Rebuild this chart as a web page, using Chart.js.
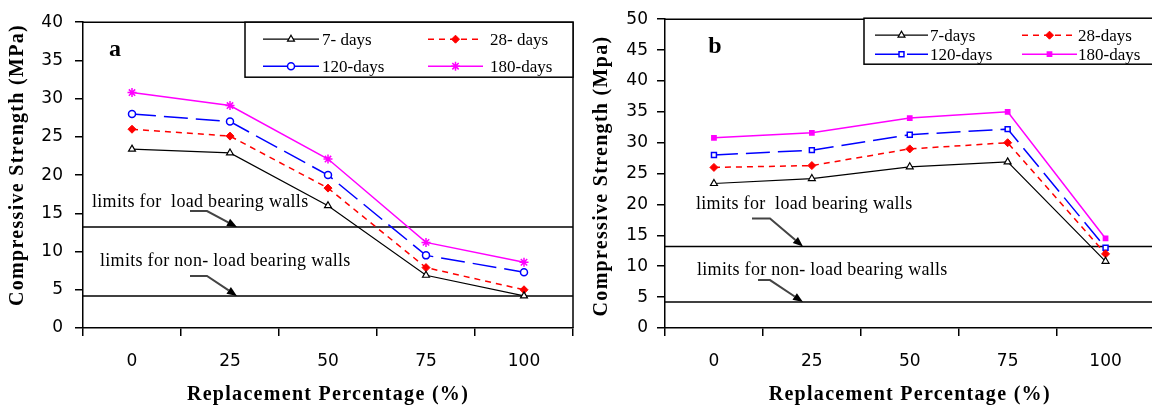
<!DOCTYPE html>
<html><head><meta charset="utf-8">
<script src="https://cdn.jsdelivr.net/npm/chart.js@4.4.0/dist/chart.umd.min.js"></script>
<style>
html,body{margin:0;padding:0;background:#fff;overflow:hidden;width:1152px;height:407px}
canvas{position:absolute;top:0}
#ca{left:0}#cb{left:580px}
</style></head>
<body>
<canvas id="ca" width="580" height="407"></canvas>
<canvas id="cb" width="580" height="407"></canvas>
<script>
// ---------- data ----------
const categories = ['0', '25', '50', '75', '100'];
const namesA = ['7- days', '28- days', '120-days', '180-days'];
const namesB = ['7-days', '28-days', '120-days', '180-days'];

const a7   = [23.4, 22.9, 16.0, 6.9, 4.2];
const a28  = [26.0, 25.1, 18.3, 7.9, 5.0];
const a120 = [28.0, 27.0, 20.0, 9.5, 7.3];
const a180 = [30.8, 29.1, 22.1, 11.2, 8.6];

const b7   = [23.4, 24.2, 26.1, 26.9, 10.8];
const b28  = [26.0, 26.3, 29.0, 30.0, 12.0];
const b120 = [28.0, 28.8, 31.3, 32.2, 13.0];
const b180 = [30.8, 31.6, 34.0, 35.0, 14.5];

const limitLoad = 13.2;
const limitNonLoad = 4.2;
const noteLoad = 'limits for  load bearing walls';
const noteNonLoad = 'limits for non- load bearing walls';

const yMaxA = 40, yMaxB = 50, yStep = 5;
const xTitle = 'Replacement Percentage (%)';
const yTitleA = 'Compressive Strength (MPa)';
const yTitleB = 'Compressive Strength (Mpa)';

// ---------- helpers ----------
const SERIF = '"Liberation Serif", "Times New Roman", serif';
const SANS = '"DejaVu Sans", sans-serif';

function mkDatasets(names, d7, d28, d120, d180, isB) {
  return [
    {label: names[0], data: d7, borderColor: '#000', backgroundColor: '#fff', borderWidth: 1.2,
     pointStyle: 'triangle', pointRadius: 4, pointBorderColor: '#000', pointBackgroundColor: '#fff', pointBorderWidth: 1.2},
    {label: names[1], data: d28, borderColor: '#ff0000', backgroundColor: '#ff0000', borderWidth: 1.5, borderDash: [6, 5],
     pointStyle: 'rectRot', pointRadius: 4, pointBorderColor: '#ff0000', pointBackgroundColor: '#ff0000', pointBorderWidth: 1},
    {label: names[2], data: d120, borderColor: '#0000ff', backgroundColor: '#fff', borderWidth: 1.5, borderDash: [24, 8],
     pointStyle: isB ? 'rect' : 'circle', pointRadius: isB ? 3.5 : 3.5, pointBorderColor: '#0000ff', pointBackgroundColor: '#fff', pointBorderWidth: 1.5},
    {label: names[3], data: d180, borderColor: '#ff00ff', backgroundColor: '#ff00ff', borderWidth: 1.5,
     pointStyle: isB ? 'rect' : 'star', pointRadius: isB ? 3 : 4.5, pointBorderColor: '#ff00ff', pointBackgroundColor: '#ff00ff', pointBorderWidth: 1.5}
  ];
}

function drawArrow(ctx, x0, y0, x1, y1, x2, y2) {
  const ang = Math.atan2(y2 - y1, x2 - x1);
  const L = 10, W = 4;
  const bx = x2 - L * Math.cos(ang), by = y2 - L * Math.sin(ang);
  ctx.strokeStyle = '#444'; ctx.lineWidth = 2; ctx.setLineDash([]);
  ctx.beginPath(); ctx.moveTo(x0, y0); ctx.lineTo(x1, y1); ctx.lineTo(bx, by); ctx.stroke();
  ctx.fillStyle = '#000';
  ctx.beginPath(); ctx.moveTo(x2, y2);
  ctx.lineTo(bx + W * Math.sin(ang), by - W * Math.cos(ang));
  ctx.lineTo(bx - W * Math.sin(ang), by + W * Math.cos(ang));
  ctx.closePath(); ctx.fill();
}

const deco = {
  id: 'deco',
  beforeDatasetsDraw(chart, args, o) {
    const ctx = chart.ctx, ca = chart.chartArea, y = chart.scales.y;
    ctx.save();
    ctx.strokeStyle = '#000'; ctx.lineWidth = 1.5;
    ctx.beginPath(); ctx.moveTo(ca.left, ca.top); ctx.lineTo(ca.right, ca.top); ctx.lineTo(ca.right, ca.bottom); ctx.stroke();
    [limitLoad, limitNonLoad].forEach(v => {
      const py = y.getPixelForValue(v);
      ctx.beginPath(); ctx.moveTo(ca.left, py); ctx.lineTo(ca.right, py); ctx.stroke();
    });
    ctx.restore();
  },
  afterDraw(chart, args, o) {
    const ctx = chart.ctx, ca = chart.chartArea, y = chart.scales.y;
    ctx.save();
    // notes and arrows
    o.notes.forEach(n => {
      ctx.font = '18px ' + SERIF; ctx.fillStyle = '#000';
      ctx.letterSpacing = '0.3px';
      ctx.textAlign = 'left'; ctx.textBaseline = 'middle';
      ctx.fillText(n.text, ca.left + n.dx, y.getPixelForValue(n.yVal));
      ctx.letterSpacing = '0px';
      const ty = y.getPixelForValue(n.lineVal);
      drawArrow(ctx, ca.left + n.a[0], ty - n.a[3], ca.left + n.a[1], ty - n.a[3], ca.left + n.a[2], ty);
    });
    // panel letter
    ctx.font = 'bold 24px ' + SERIF; ctx.fillStyle = '#000';
    ctx.textAlign = 'center'; ctx.textBaseline = 'middle';
    ctx.fillText(o.letter, ca.left + o.letterDx, ca.top + 28);
    // legend box
    const lg = o.legend;
    const bl = ca.left + lg.dx, bt = ca.top + lg.dy, br = ca.right, bb = bt + lg.h;
    ctx.fillStyle = '#fff'; ctx.fillRect(bl, bt, br - bl, bb - bt);
    ctx.strokeStyle = '#000'; ctx.lineWidth = 1.5; ctx.setLineDash([]);
    ctx.strokeRect(bl, bt, br - bl, bb - bt);
    chart.data.datasets.forEach((ds, i) => {
      const col = i % 2, row = Math.floor(i / 2);
      const x0 = bl + lg.cols[col][0], x1 = bl + lg.cols[col][1], tx = bl + lg.cols[col][2];
      const yy = bt + lg.rows[row];
      ctx.strokeStyle = ds.borderColor; ctx.lineWidth = ds.borderWidth;
      ctx.setLineDash(ds.borderDash || []);
      ctx.beginPath(); ctx.moveTo(x0, yy); ctx.lineTo(x1, yy); ctx.stroke();
      ctx.setLineDash([]);
      ctx.strokeStyle = ds.pointBorderColor; ctx.fillStyle = ds.pointBackgroundColor; ctx.lineWidth = ds.pointBorderWidth;
      Chart.helpers.drawPoint(ctx, {pointStyle: ds.pointStyle, radius: ds.pointRadius, rotation: 0, borderWidth: ds.pointBorderWidth}, (x0 + x1) / 2, yy);
      ctx.fillStyle = '#000'; ctx.font = '17px ' + SERIF;
      ctx.textAlign = 'left'; ctx.textBaseline = 'middle';
      ctx.fillText(ds.label, tx, yy + 1);
    });
    // axis titles
    ctx.fillStyle = '#000';
    ctx.font = 'bold 20px ' + SERIF;
    ctx.letterSpacing = '1.3px';
    ctx.textAlign = 'center'; ctx.textBaseline = 'middle';
    ctx.fillText(o.xTitle, (ca.left + ca.right) / 2, 395);
    ctx.translate(o.yTitleX, o.yTitleY);
    ctx.rotate(-Math.PI / 2);
    ctx.fillText(o.yTitle, 0, 0);
    ctx.restore();
  }
};

function axisCfg(yMax, yAxisWidth, yPad) {
  return {
    x: {
      type: 'category', offset: true,
      grid: {offset: true, drawOnChartArea: false, drawTicks: true, tickLength: 8, color: '#000', lineWidth: 1.5},
      border: {color: '#000', width: 1.5},
      ticks: {color: '#000', font: {family: SANS, size: 17}, padding: 15, maxRotation: 0},
      afterFit: s => { s.height = 407 - 328; }
    },
    y: {
      min: 0, max: yMax,
      grid: {drawOnChartArea: false, drawTicks: true, tickLength: 8, color: '#000', lineWidth: 1.5},
      border: {color: '#000', width: 1.5},
      ticks: {stepSize: yStep, color: '#000', font: {family: SANS, size: 17}, padding: yPad},
      afterFit: s => { s.width = yAxisWidth; }
    }
  };
}

function makeChart(id, datasets, yMax, yAxisWidth, yPad, padRight, decoOpts) {
  return new Chart(document.getElementById(id), {
    type: 'line',
    data: {labels: categories, datasets: datasets},
    options: {
      responsive: false, animation: false, devicePixelRatio: 1,
      layout: {padding: {left: 0, right: padRight, top: 15, bottom: 0}},
      elements: {line: {tension: 0, fill: false}},
      plugins: {legend: {display: false}, tooltip: {enabled: false}, title: {display: false}, deco: decoOpts},
      scales: axisCfg(yMax, yAxisWidth, yPad)
    },
    plugins: [deco]
  });
}

makeChart('ca', mkDatasets(namesA, a7, a28, a120, a180, false), yMaxA, 83, 12, 7, {
  letter: 'a', letterDx: 32,
  xTitle: xTitle, yTitle: yTitleA, yTitleX: 18, yTitleY: 165,
  legend: {dx: 162, dy: 0, h: 55, cols: [[18, 74, 77], [183, 238, 245]], rows: [17, 44]},
  notes: [
    {text: noteLoad, dx: 9, yVal: 16.4, lineVal: limitLoad, a: [107, 124, 154, 16]},
    {text: noteNonLoad, dx: 17, yVal: 8.7, lineVal: limitNonLoad, a: [107, 124, 154, 20]}
  ]
});

makeChart('cb', mkDatasets(namesB, b7, b28, b120, b180, true), yMaxB, 85, 9, 3, {
  letter: 'b', letterDx: 50,
  xTitle: xTitle, yTitle: yTitleB, yTitleX: 22, yTitleY: 176,
  legend: {dx: 199, dy: -1, h: 46, cols: [[11, 64, 66], [158, 213, 214]], rows: [17, 36]},
  notes: [
    {text: noteLoad, dx: 31, yVal: 20.1, lineVal: limitLoad, a: [87, 105, 138, 28]},
    {text: noteNonLoad, dx: 32, yVal: 9.3, lineVal: limitNonLoad, a: [93, 105, 138, 22]}
  ]
});
</script>
</body></html>
